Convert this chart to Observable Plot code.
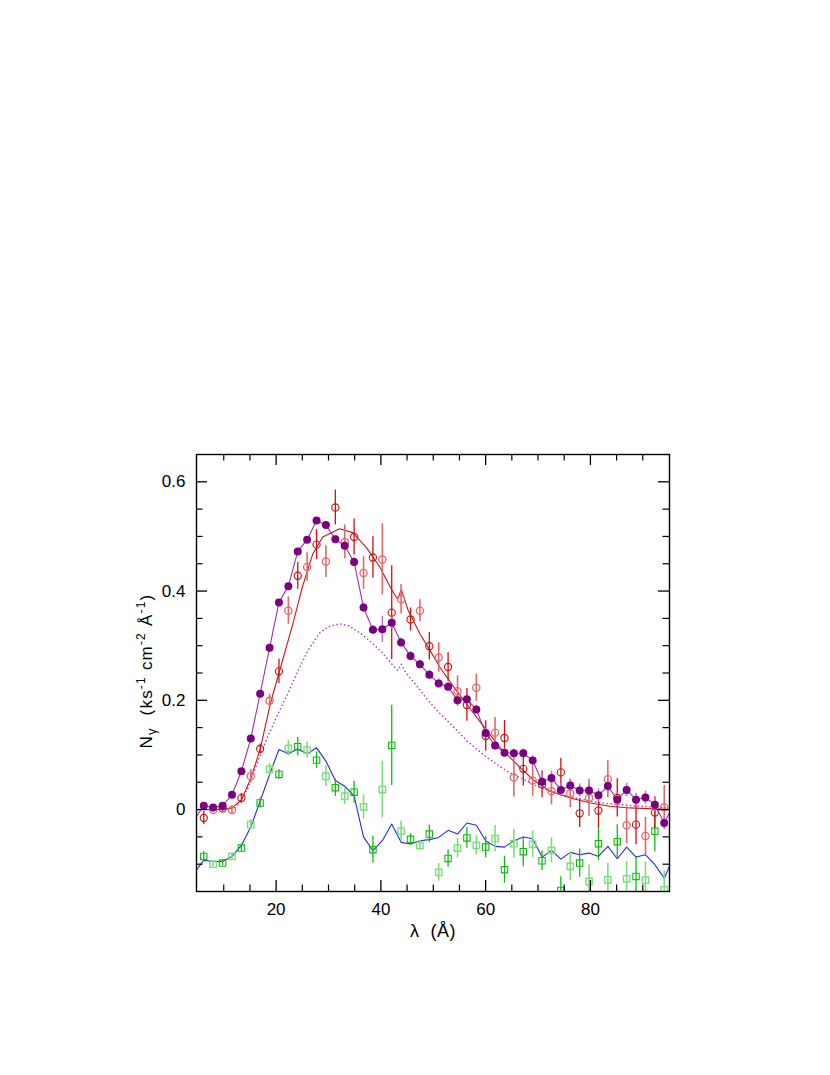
<!DOCTYPE html>
<html>
<head>
<meta charset="utf-8">
<script src="https://cdn.jsdelivr.net/npm/d3@7"></script>
<script src="https://cdn.jsdelivr.net/npm/@observablehq/plot@0.6"></script>
<style>
  html, body { margin: 0; padding: 0; background: #fff; }
  #chart svg { display: block; }
</style>
</head>
<body>
<div id="chart"></div>
<script>
// ---- data ----
const lambda = [6.19, 7.98, 9.78, 11.57, 13.37, 15.16, 16.95, 18.75, 20.54, 22.34,
  24.13, 25.92, 27.72, 29.51, 31.31, 33.10, 34.89, 36.69, 38.48, 40.28,
  42.07, 43.86, 45.66, 47.45, 49.25, 51.04, 52.83, 54.63, 56.42, 58.22,
  60.01, 61.80, 63.60, 65.39, 67.19, 68.98, 70.77, 72.57, 74.36, 76.16,
  77.95, 79.74, 81.54, 83.33, 85.13, 86.92, 88.71, 90.51, 92.30, 94.10];

// filled purple points
const purple = [0.007, 0.004, 0.007, 0.027, 0.070, 0.130, 0.212, 0.296, 0.379, 0.409,
  0.4725, 0.494, 0.529, 0.521, 0.495, 0.483, 0.453, 0.370, 0.329, 0.330,
  0.342, 0.306, 0.281, 0.266, 0.247, 0.231, 0.225, 0.200, 0.202, 0.183,
  0.140, 0.1175, 0.104, 0.103, 0.103, 0.090, 0.051, 0.058, 0.036, 0.044,
  0.035, 0.035, 0.026, 0.043, 0.018, 0.036, 0.018, 0.022, 0.009, -0.0245];
const purpleErr = [0.005, 0.005, 0.005, 0.005, 0.005, 0.005, 0.005, 0.005, 0.005, 0.005,
  0.005, 0.005, 0.005, 0.006, 0.006, 0.008, 0.008, 0.008, 0.008, 0.024,
  0.012, 0.008, 0.008, 0.008, 0.008, 0.008, 0.008, 0.008, 0.008, 0.008,
  0.008, 0.008, 0.008, 0.008, 0.008, 0.008, 0.012, 0.012, 0.012, 0.012,
  0.012, 0.012, 0.012, 0.012, 0.012, 0.012, 0.012, 0.012, 0.012, 0.012];
const purpleLineEnds = { leftX: 4.40, leftY: -0.018, rightX: 95.89, rightY: 0.009 };

// open red circles
const red = [-0.0154, -0.001, 0.002, -0.001, 0.021, 0.061, 0.111, 0.199, 0.253, 0.364,
  0.428, 0.444, 0.485, 0.454, 0.553, 0.490, 0.499, 0.433, 0.4615, 0.458,
  0.3605, 0.385, 0.348, 0.364, 0.299, 0.2785, 0.261, 0.2167, 0.1915, 0.223,
  0.1346, 0.1407, 0.131, 0.0588, 0.0746, 0.0533, 0.046, 0.0336, 0.068, 0.0294,
  -0.0068, 0.0213, -0.0018, 0.0557, 0.0213, -0.0288, -0.0276, -0.0484, -0.0055, 0.0042];
const redErr = [0.012, 0.005, 0.006, 0.008, 0.009, 0.012, 0.009, 0.012, 0.022, 0.025,
  0.0245, 0.026, 0.0275, 0.029, 0.032, 0.031, 0.033, 0.030, 0.038, 0.065,
  0.086, 0.027, 0.021, 0.020, 0.025, 0.027, 0.026, 0.028, 0.030, 0.025,
  0.028, 0.028, 0.032, 0.036, 0.0315, 0.029, 0.0245, 0.025, 0.026, 0.026,
  0.026, 0.034, 0.032, 0.034, 0.035, 0.034, 0.037, 0.034, 0.029, 0.040];

// red model curve
const redModelX = [4.8, 9.8, 11.6, 13.4, 15.2, 17.0, 18.8, 19.6, 23.2, 25.0,
  27.0, 28.9, 32.1, 34.6, 37.2, 39.8, 41.9, 43.2, 43.9, 45.2,
  47.5, 49.4, 51.3, 53.3, 55.2, 57.0, 59.0, 61.0, 62.8, 65.2,
  69.0, 72.2, 76.2, 80.0, 83.7, 87.5, 95.1];
const redModelY = [0.0, 0.0, 0.003, 0.018, 0.058, 0.112, 0.19, 0.218, 0.340, 0.407,
  0.468, 0.499, 0.514, 0.507, 0.480, 0.444, 0.405, 0.385, 0.403, 0.365,
  0.321, 0.291, 0.260, 0.2325, 0.208, 0.185, 0.160, 0.135, 0.113, 0.090,
  0.055, 0.034, 0.0213, 0.012, 0.006, 0.003, 0.0];

// purple dotted model component
const dotModelX = [4.8, 10.5, 12.4, 14.4, 16.0, 18.0, 20.0, 22.0, 24.0, 26.0,
  28.3, 30.0, 32.2, 34.0, 36.2, 38.0, 40.0, 42.4, 43.2, 43.9,
  44.8, 46.9, 48.8, 51.4, 54.0, 56.5, 60.3, 64.1, 66.6, 70.4,
  75.5, 81.9, 89.5, 95.1];
const dotModelY = [0.0, 0.0, 0.004, 0.035, 0.075, 0.125, 0.168, 0.208, 0.25, 0.29,
  0.323, 0.335, 0.340, 0.336, 0.322, 0.308, 0.29, 0.263, 0.255, 0.266,
  0.25, 0.226, 0.202, 0.1745, 0.15, 0.125, 0.095, 0.070, 0.058, 0.040,
  0.0244, 0.012, 0.006, 0.003];

// open green squares
const green = [-0.0858, -0.100, -0.098, -0.0858, -0.0705, -0.0276, 0.012, 0.0735, 0.0643, 0.112,
  0.115, 0.109, 0.0905, 0.061, 0.040, 0.0244, 0.0318, 0.005, -0.0735, 0.0367,
  0.1175, -0.0393, -0.0545, -0.0656, -0.0448, -0.115, -0.0894, -0.0705, -0.052, -0.0656,
  -0.0687, -0.0533, -0.110, -0.0625, -0.0771, -0.0637, -0.0937, -0.0747, -0.148, -0.104,
  -0.098, -0.1317, -0.0625, -0.1286, -0.0588, -0.1268, -0.1225, -0.1292, -0.0399, -0.147];
const greenErr = [0.009, 0.005, 0.005, 0.005, 0.007, 0.009, 0.009, 0.0104, 0.009, 0.0138,
  0.017, 0.015, 0.015, 0.019, 0.016, 0.015, 0.020, 0.022, 0.0245, 0.052,
  0.0735, 0.018, 0.0104, 0.009, 0.016, 0.016, 0.016, 0.018, 0.019, 0.018,
  0.020, 0.024, 0.0245, 0.026, 0.0275, 0.0245, 0.018, 0.023, 0.025, 0.026,
  0.026, 0.030, 0.031, 0.030, 0.031, 0.032, 0.035, 0.033, 0.038, 0.035];

// blue model line (at lambda, plus ends beyond the frame)
const blue = [-0.093, -0.095, -0.095, -0.0858, -0.0656, -0.032, 0.0152, 0.064, 0.110, 0.102,
  0.111, 0.102, 0.113, 0.0887, 0.0533, 0.0428, 0.0244, -0.050, -0.0753, -0.057,
  -0.0264, -0.060, -0.063, -0.057, -0.055, -0.051, -0.038, -0.0448, -0.0246, -0.0288,
  -0.057, -0.0674, -0.0687, -0.057, -0.0503, -0.0533, -0.087, -0.0747, -0.0907, -0.0784,
  -0.0826, -0.0797, -0.0858, -0.0674, -0.090, -0.0687, -0.087, -0.0826, -0.101, -0.1256];
const blueLineEnds = { leftX: 4.40, leftY: -0.115, rightX: 95.89, rightY: -0.087 };

// axes
const xDomain = [4.8, 95.1];
const yDomain = [-0.15, 0.65];
const xMajor = [20, 40, 60, 80];
const xMinor = [10, 15, 25, 30, 35, 45, 50, 55, 65, 70, 75, 85, 90];
const yMajor = [0, 0.2, 0.4, 0.6];
const yMinor = [-0.1, -0.05, 0.05, 0.1, 0.15, 0.25, 0.3, 0.35, 0.45, 0.5, 0.55];

// ---- build ----
const rows = lambda.map((x, i) => ({i, x, a: purple[i], ae: purpleErr[i], b: red[i], be: redErr[i], c: green[i], ce: greenErr[i]}));
const purpleLine = [{x: purpleLineEnds.leftX, y: purpleLineEnds.leftY},
  ...lambda.map((x, i) => ({x, y: purple[i]})),
  {x: purpleLineEnds.rightX, y: purpleLineEnds.rightY}];
const blueLine = [{x: blueLineEnds.leftX, y: blueLineEnds.leftY},
  ...lambda.map((x, i) => ({x, y: blue[i]})),
  {x: blueLineEnds.rightX, y: blueLineEnds.rightY}];
const redModel = redModelX.map((x, i) => ({x, y: redModelY[i]}));
const dotModel = dotModelX.map((x, i) => ({x, y: dotModelY[i]}));

const W = 830, H = 1075;
const mL = 196, mR = 161, mT = 454, mB = 184;
const xPerPx = (xDomain[1] - xDomain[0]) / (W - mL - mR);
const yPerPx = (yDomain[1] - yDomain[0]) / (H - mT - mB);
const majLen = 11, minLen = 6.5;
const FONT = "'Liberation Sans', Arial, Helvetica, sans-serif";

const C = {
  purpleDot: "#7a0080", purpleLine: "#a030a8", purpleErr: "#c070d0", purpleDotted: "#b040c0",
  redDark: "#cc1111", redLight: "#e06a6a", redLine: "#c81818",
  greenDark: "#11bb11", greenLight: "#7fdc7f", blue: "#2a2ad0"
};

const even = d => d.i % 2 === 0, odd = d => d.i % 2 === 1;

const chart = Plot.plot({
  width: W, height: H,
  marginLeft: mL, marginRight: mR, marginTop: mT, marginBottom: mB,
  style: {fontFamily: FONT, fontSize: "16px", color: "#000", background: "#fff"},
  x: {domain: xDomain},
  y: {domain: yDomain},
  marks: [
    Plot.line(dotModel, {x: "x", y: "y", stroke: C.purpleDotted, strokeWidth: 1.6, strokeDasharray: "0.1,3.8", strokeLinecap: "round", clip: true}),
    Plot.line(redModel, {x: "x", y: "y", stroke: C.redLine, strokeWidth: 1.1, clip: true}),
    Plot.line(purpleLine, {x: "x", y: "y", stroke: C.purpleLine, strokeWidth: 1.1, clip: true}),
    Plot.line(blueLine, {x: "x", y: "y", stroke: C.blue, strokeWidth: 1.1, clip: true}),
    // error bars
    Plot.ruleX(rows, {filter: even, x: "x", y1: d => d.c - d.ce, y2: d => d.c + d.ce, stroke: C.greenDark, strokeWidth: 1.3, clip: true}),
    Plot.ruleX(rows, {filter: odd, x: "x", y1: d => d.c - d.ce, y2: d => d.c + d.ce, stroke: C.greenLight, strokeWidth: 1.6, clip: true}),
    Plot.ruleX(rows, {filter: even, x: "x", y1: d => d.b - d.be, y2: d => d.b + d.be, stroke: C.redDark, strokeWidth: 1.3, clip: true}),
    Plot.ruleX(rows, {filter: odd, x: "x", y1: d => d.b - d.be, y2: d => d.b + d.be, stroke: C.redLight, strokeWidth: 1.6, clip: true}),
    Plot.ruleX(rows, {x: "x", y1: d => d.a - d.ae, y2: d => d.a + d.ae, stroke: C.purpleErr, strokeWidth: 1.5, clip: true}),
    // points
    Plot.dot(rows, {filter: even, x: "x", y: "c", symbol: "square", r: 3.6, stroke: C.greenDark, fill: "none", strokeWidth: 1.1, clip: true}),
    Plot.dot(rows, {filter: odd, x: "x", y: "c", symbol: "square", r: 3.6, stroke: C.greenLight, fill: "none", strokeWidth: 1.4, clip: true}),
    Plot.dot(rows, {filter: even, x: "x", y: "b", r: 3.6, stroke: C.redDark, fill: "none", strokeWidth: 1.1, clip: true}),
    Plot.dot(rows, {filter: odd, x: "x", y: "b", r: 3.6, stroke: C.redLight, fill: "none", strokeWidth: 1.3, clip: true}),
    Plot.dot(rows, {x: "x", y: "a", r: 4, fill: C.purpleDot, stroke: "none", clip: true}),
    // inward ticks on all four sides
    Plot.ruleX(xMajor, {x: d => d, y1: yDomain[0], y2: yDomain[0] + majLen * yPerPx, stroke: "#000", strokeWidth: 1.3}),
    Plot.ruleX(xMajor, {x: d => d, y1: yDomain[1], y2: yDomain[1] - majLen * yPerPx, stroke: "#000", strokeWidth: 1.3}),
    Plot.ruleX(xMinor, {x: d => d, y1: yDomain[0], y2: yDomain[0] + minLen * yPerPx, stroke: "#000", strokeWidth: 1.2}),
    Plot.ruleX(xMinor, {x: d => d, y1: yDomain[1], y2: yDomain[1] - minLen * yPerPx, stroke: "#000", strokeWidth: 1.2}),
    Plot.ruleY(yMajor, {y: d => d, x1: xDomain[0], x2: xDomain[0] + majLen * xPerPx, stroke: "#000", strokeWidth: 1.3}),
    Plot.ruleY(yMajor, {y: d => d, x1: xDomain[1], x2: xDomain[1] - majLen * xPerPx, stroke: "#000", strokeWidth: 1.3}),
    Plot.ruleY(yMinor, {y: d => d, x1: xDomain[0], x2: xDomain[0] + minLen * xPerPx, stroke: "#000", strokeWidth: 1.2}),
    Plot.ruleY(yMinor, {y: d => d, x1: xDomain[1], x2: xDomain[1] - minLen * xPerPx, stroke: "#000", strokeWidth: 1.2}),
    Plot.axisX({ticks: xMajor, tickSize: 0, tickPadding: 11, label: null, fontSize: 17}),
    Plot.axisY({ticks: yMajor, tickSize: 0, tickPadding: 11, label: null, fontSize: 17,
      tickFormat: d => d === 0 ? "0" : d.toFixed(1)}),
    Plot.frame({stroke: "#000", strokeWidth: 1.4})
  ]
});

document.getElementById("chart").appendChild(chart);

// axis titles with sub/superscripts
const svg = d3.select(chart);
svg.append("text")
  .attr("x", 433).attr("y", 937)
  .attr("text-anchor", "middle")
  .attr("font-family", FONT)
  .attr("font-size", 18)
  .attr("letter-spacing", 0.5)
  .attr("fill", "#000")
  .attr("xml:space", "preserve")
  .text("λ  (Å)");

const yl = svg.append("text")
  .attr("transform", "translate(152,671) rotate(-90)")
  .attr("text-anchor", "middle")
  .attr("font-family", FONT)
  .attr("font-size", 17)
  .attr("letter-spacing", 1.2)
  .attr("fill", "#000")
  .attr("xml:space", "preserve");
yl.append("tspan").text("N");
yl.append("tspan").attr("font-size", 13).attr("dy", 4).text("γ");
yl.append("tspan").attr("dy", -4).text("  (ks");
yl.append("tspan").attr("font-size", 12).attr("dy", -7).text("-1");
yl.append("tspan").attr("dy", 7).text(" cm");
yl.append("tspan").attr("font-size", 12).attr("dy", -7).text("-2");
yl.append("tspan").attr("dy", 7).text(" Å");
yl.append("tspan").attr("font-size", 12).attr("dy", -7).text("-1");
yl.append("tspan").attr("dy", 7).text(")");
</script>
</body>
</html>
